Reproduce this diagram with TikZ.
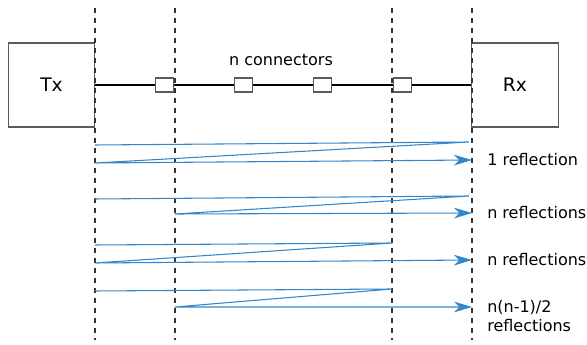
\documentclass[tikz,border=0pt]{standalone}
\usepackage{fontspec}
\setmainfont{DejaVu Sans}
\usetikzlibrary{arrows.meta, positioning}
\definecolor{raycol}{RGB}{52,134,200}
\definecolor{boxcol}{RGB}{85,92,100}

\begin{document}
\begin{tikzpicture}[
        x=0.75pt, y=-0.75pt,
        unit/.style={draw=boxcol, line width=0.8pt, rectangle, minimum width=65pt, minimum height=63pt, font=\fontsize{14}{16}\selectfont},
        conn/.style={draw=boxcol, line width=0.8pt, fill=white, rectangle, minimum width=14pt, minimum height=10.5pt, inner sep=0pt},
        plane/.style={black!80, line width=0.8pt, dash pattern=on 4pt off 3.5pt},
        ray/.style={raycol, line width=0.8pt, -{Stealth[length=13.5pt, width=8pt, inset=4pt]}},
        lbl/.style={anchor=west, inner sep=0pt, align=left, font=\fontsize{12}{14}\selectfont}
    ]
        \useasboundingbox (0,0) rectangle (587,345);

        % reference planes
        \foreach \p/\xp/\yb in {1/95/340, 2/175/340, 3/392/340, 4/472/340} {
            \coordinate (top\p) at (\xp,8);
            \coordinate (bot\p) at (\xp,\yb);
        }

        \node[unit] (tx) at (51.5,85) {Tx};
        \node[unit] (rx) at (515,85)  {Rx};
        \node[conn] (c1) at (164.5,85) {};
        \node[conn] (c2) at (243.5,85) {};
        \node[conn] (c3) at (322.5,85) {};
        \node[conn] (c4) at (402.5,85) {};
        \node[lbl, anchor=center] (nconn) at (281,60) {n connectors};

        \draw[line width=0.8pt] (tx.east) -- (c1.west);
        \draw[line width=0.8pt] (c1.east) -- (c2.west);
        \draw[line width=0.8pt] (c2.east) -- (c3.west);
        \draw[line width=0.8pt] (c3.east) -- (c4.west);
        \draw[line width=0.8pt] (c4.east) -- (rx.west);

        \foreach \p in {1,...,4}
            \draw[plane] (top\p) -- (bot\p);

        % reflection paths
        \coordinate (a1) at (95,145);  \coordinate (m1) at (469,142);
        \coordinate (s1) at (95,163);  \coordinate (e1) at (472,160);
        \coordinate (a2) at (95,199);  \coordinate (m2) at (469,196);
        \coordinate (s2) at (175,214); \coordinate (e2) at (472,213);
        \coordinate (a3) at (95,245);  \coordinate (m3) at (392,243);
        \coordinate (s3) at (95,263);  \coordinate (e3) at (472,260);
        \coordinate (a4) at (95,291);  \coordinate (m4) at (392,289);
        \coordinate (s4) at (175,307); \coordinate (e4) at (472,307);

        \foreach \r in {1,...,4}
            \draw[ray] (a\r) -- (m\r) -- (s\r) -- (e\r);

        \node[lbl] (r1) at (487,160) {1 reflection};
        \node[lbl] (r2) at (487,213) {n reflections};
        \node[lbl] (r3) at (487,260) {n reflections};
        \node[lbl] (r4) at (487,316) {n(n-1)/2\\reflections};
    \end{tikzpicture}
\end{document}
